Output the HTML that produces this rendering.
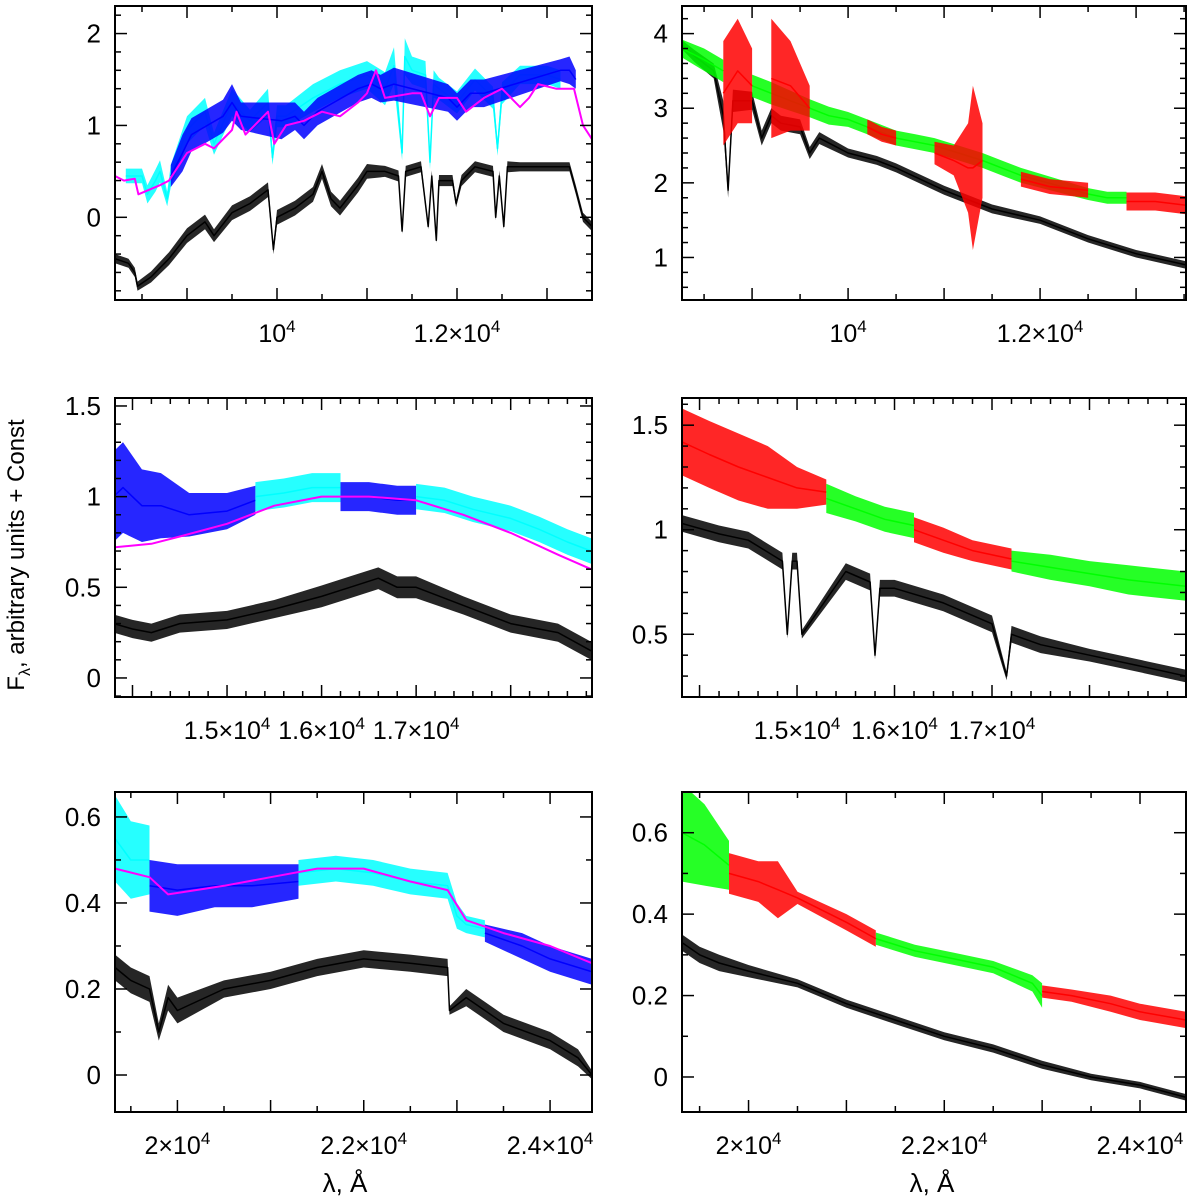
<!DOCTYPE html>
<html><head><meta charset="utf-8">
<style>
html,body{margin:0;padding:0;background:#fff}
svg{display:block}
text{font-family:"Liberation Sans",sans-serif;fill:#000}
</style></head>
<body>
<svg id="chart" width="1200" height="1200" viewBox="0 0 1200 1200" xmlns="http://www.w3.org/2000/svg">
<text transform="translate(24,555) rotate(-90)" text-anchor="middle" font-size="24">F<tspan font-size="16" dy="6">λ</tspan><tspan dy="-6">, arbitrary units + Const</tspan></text>
<text x="345" y="1192" text-anchor="middle" font-size="26">λ, Å</text>
<text x="932" y="1192" text-anchor="middle" font-size="26">λ, Å</text>
</svg>
<script>
// ---------- data (wavelength Å, flux) ----------
// Top-left panel
const tlBlackX=[8200,8350,8420,8450,8600,8800,9000,9200,9300,9500,9700,9900,9960,10000,10200,10400,10500,10600,10700,10900,11000,11200,11350,11390,11430,11600,11680,11720,11770,11800,11950,11990,12050,12200,12400,12430,12470,12520,12560,12700,13000,13250,13320,13400,13500];
const tlBlackY=[-0.45,-0.5,-0.6,-0.75,-0.65,-0.45,-0.2,-0.05,-0.2,0.05,0.15,0.3,-0.35,0.0,0.1,0.25,0.5,0.2,0.1,0.35,0.5,0.5,0.45,-0.15,0.5,0.55,-0.1,0.45,-0.25,0.4,0.4,0.15,0.4,0.55,0.5,0.0,0.45,-0.1,0.55,0.55,0.55,0.55,0.3,0.0,-0.1];
const tlBlackA=[0.05,0.05,0.05,0.05,0.06,0.07,0.08,0.08,0.07,0.08,0.08,0.08,0.05,0.08,0.08,0.08,0.08,0.08,0.08,0.08,0.08,0.06,0.06,0.03,0.06,0.06,0.03,0.06,0.03,0.06,0.06,0.04,0.06,0.06,0.06,0.03,0.06,0.03,0.06,0.05,0.05,0.05,0.05,0.05,0.05];
const tlCyanX=[8320,8500,8560,8650,8700,8780,8820,9000,9200,9300,9500,9700,9900,9950,10000,10100,10400,10700,11000,11200,11300,11390,11420,11500,11650,11700,11740,11800,12000,12200,12400,12450,12500,12700,13000,13150];
const tlCyanY=[0.45,0.45,0.25,0.4,0.5,0.2,0.45,0.95,1.15,0.8,1.25,1.05,1.25,0.65,1.1,1.1,1.3,1.45,1.55,1.4,1.65,0.7,1.75,1.6,1.55,0.6,1.45,1.4,1.25,1.5,1.3,0.75,1.35,1.55,1.55,1.5];
const tlCyanA=[0.08,0.08,0.1,0.12,0.12,0.08,0.12,0.15,0.15,0.12,0.15,0.12,0.15,0.08,0.12,0.12,0.15,0.15,0.15,0.18,0.2,0.08,0.2,0.15,0.15,0.08,0.15,0.12,0.12,0.12,0.12,0.08,0.12,0.1,0.1,0.1];
const tlBlueX=[8820,8950,9050,9400,9500,9600,10050,10200,10300,10450,10900,11050,11150,11300,11900,12000,12150,12300,13150,13250,13320];
const tlBlueY=[0.45,0.7,0.9,1.1,1.25,1.1,1.05,1.1,1.0,1.15,1.4,1.45,1.4,1.45,1.3,1.2,1.35,1.35,1.6,1.6,1.5];
const tlBlueA=[0.12,0.2,0.18,0.18,0.2,0.15,0.2,0.15,0.15,0.15,0.15,0.15,0.15,0.18,0.15,0.15,0.15,0.15,0.12,0.15,0.1];
const tlMagX=[8200,8300,8420,8460,8700,8800,9000,9200,9300,9500,9550,9650,9750,9900,9970,10100,10300,10500,10700,10900,11000,11100,11200,11500,11600,11700,11800,12000,12100,12300,12500,12700,12800,12900,13100,13300,13400,13500];
const tlMagY=[0.45,0.4,0.42,0.25,0.35,0.4,0.7,0.8,0.75,0.95,1.15,0.9,1.0,1.15,0.8,1.0,1.05,1.15,1.1,1.25,1.35,1.6,1.3,1.35,1.35,1.1,1.3,1.3,1.15,1.3,1.4,1.2,1.3,1.45,1.4,1.4,1.0,0.85];

// Top-right panel
const trBlackX=[8270,8400,8600,8700,8750,8800,9000,9100,9200,9300,9500,9600,9700,10000,10300,10500,11000,11500,12000,12500,13000,13520];
const trBlackY=[3.85,3.7,3.5,2.9,1.9,3.1,3.1,2.6,2.9,2.8,2.75,2.4,2.6,2.4,2.3,2.2,1.9,1.65,1.5,1.25,1.05,0.9];
const trBlackA=[0.06,0.08,0.1,0.2,0.1,0.15,0.12,0.1,0.1,0.1,0.1,0.08,0.08,0.06,0.06,0.06,0.06,0.06,0.05,0.05,0.05,0.05];
const trGreenX=[8270,8500,8700,8700,9000,9200,9600,9800,10000,10200,10500,10700,10900,11400,11600,11800,12500,12700,12900];
const trGreenY=[3.8,3.65,3.5,null,3.3,3.2,3.0,2.9,2.85,2.75,2.6,2.55,2.5,2.3,2.2,2.1,1.85,1.8,1.8];
const trGreenA=[0.12,0.15,0.15,0,0.15,0.15,0.12,0.12,0.1,0.1,0.1,0.1,0.1,0.1,0.1,0.1,0.08,0.08,0.08];
const trRedX=[8700,8850,9000,9000,9200,9400,9600,9600,10200,10350,10500,10500,10900,11100,11250,11300,11400,11400,11800,12100,12500,12500,12900,13200,13520];
const trRedY=[3.2,3.5,3.3,null,3.4,3.3,3.0,null,2.75,2.65,2.6,null,2.4,2.3,2.2,2.2,2.3,null,2.05,1.95,1.9,null,1.75,1.75,1.7];
const trRedA=[0.7,0.7,0.5,0,0.8,0.6,0.3,0,0.1,0.1,0.1,0,0.15,0.2,0.6,1.1,0.5,0,0.1,0.1,0.1,0,0.12,0.12,0.12];

// Middle-left panel
const mlBlackX=[13800,14000,14200,14500,15000,15500,16000,16300,16600,16800,17000,17500,18000,18500,18850];
const mlBlackY=[0.3,0.27,0.25,0.3,0.32,0.38,0.45,0.5,0.55,0.5,0.5,0.4,0.3,0.25,0.15];
const mlBlackA=[0.05,0.05,0.05,0.05,0.05,0.05,0.06,0.06,0.06,0.06,0.06,0.05,0.05,0.05,0.05];
const mlBlueX=[13800,13900,14100,14300,14600,15000,15300,15300,16200,16500,16800,17000];
const mlBlueY=[1.0,1.05,0.95,0.95,0.9,0.92,0.98,null,1.0,1.0,0.98,0.98];
const mlBlueA=[0.25,0.25,0.2,0.18,0.12,0.1,0.08,0,0.08,0.08,0.08,0.08];
const mlCyanX=[15300,15600,15900,16200,16200,17000,17300,17600,18000,18300,18600,18850];
const mlCyanY=[1.0,1.02,1.05,1.05,null,1.0,0.98,0.93,0.88,0.82,0.75,0.7];
const mlCyanA=[0.08,0.08,0.08,0.08,0,0.07,0.07,0.07,0.07,0.07,0.07,0.07];
const mlMagX=[13800,14200,14500,15000,15500,16000,16500,17000,17500,18000,18500,18850];
const mlMagY=[0.72,0.74,0.78,0.85,0.95,1.0,1.0,0.98,0.9,0.8,0.68,0.6];

// Middle-right panel
const mrBlackX=[13820,14200,14500,14850,14900,14950,15000,15050,15500,15750,15800,15850,16000,16500,17000,17150,17200,17500,18000,18500,18990];
const mrBlackY=[1.03,0.98,0.95,0.85,0.5,0.85,0.85,0.5,0.8,0.75,0.4,0.72,0.72,0.65,0.55,0.3,0.5,0.45,0.4,0.35,0.3];
const mrBlackA=[0.04,0.04,0.04,0.04,0.02,0.04,0.04,0.02,0.04,0.04,0.02,0.04,0.04,0.04,0.04,0.02,0.04,0.04,0.03,0.03,0.03];
const mrRedX=[13820,14100,14400,14700,15000,15300,15300,16200,16500,16800,17200];
const mrRedY=[1.42,1.36,1.3,1.25,1.2,1.18,null,1.0,0.95,0.9,0.86];
const mrRedA=[0.16,0.16,0.16,0.15,0.1,0.06,0,0.06,0.06,0.05,0.05];
const mrGreenX=[15300,15600,15900,16200,16200,17200,17600,18000,18400,18990];
const mrGreenY=[1.15,1.1,1.05,1.02,null,0.85,0.82,0.79,0.76,0.73];
const mrGreenA=[0.07,0.06,0.06,0.06,0,0.05,0.06,0.06,0.07,0.07];

// Bottom-left panel
const blBlackX=[19330,19500,19700,19800,19900,20000,20500,21000,21500,22000,22500,22900,22920,23100,23300,23500,24000,24300,24450];
const blBlackY=[0.25,0.22,0.2,0.1,0.18,0.15,0.2,0.22,0.25,0.27,0.26,0.25,0.15,0.18,0.15,0.12,0.08,0.04,0.0];
const blBlackA=[0.03,0.03,0.03,0.02,0.03,0.03,0.02,0.02,0.02,0.02,0.02,0.02,0.01,0.02,0.02,0.02,0.02,0.02,0.01];
const blCyanX=[19330,19500,19700,19700,21300,21700,22100,22500,22900,23000,23100,23300];
const blCyanY=[0.55,0.5,0.5,null,0.47,0.48,0.47,0.45,0.44,0.37,0.35,0.34];
const blCyanA=[0.1,0.09,0.08,0,0.03,0.03,0.03,0.03,0.03,0.03,0.02,0.02];
const blBlueX=[19700,20000,20400,20800,21300,21300,23300,23700,24000,24450];
const blBlueY=[0.44,0.43,0.44,0.44,0.45,null,0.33,0.3,0.27,0.24];
const blBlueA=[0.06,0.06,0.05,0.05,0.04,0,0.02,0.03,0.03,0.03];
const blMagX=[19330,19700,19900,20500,21000,21500,22000,22500,22900,23100,23500,24000,24450];
const blMagY=[0.48,0.46,0.42,0.44,0.46,0.48,0.48,0.45,0.43,0.36,0.33,0.3,0.26];

// Bottom-right panel
const brBlackX=[19320,19500,19700,20000,20500,21000,21500,22000,22500,23000,23500,24000,24470];
const brBlackY=[0.33,0.3,0.28,0.26,0.23,0.18,0.14,0.1,0.07,0.03,0.0,-0.02,-0.05];
const brBlackA=[0.02,0.02,0.02,0.015,0.01,0.01,0.01,0.01,0.01,0.01,0.008,0.008,0.008];
const brGreenX=[19320,19550,19800,19800,21300,21700,22100,22500,22900,23000];
const brGreenY=[0.6,0.57,0.52,null,0.34,0.31,0.29,0.27,0.23,0.2];
const brGreenA=[0.12,0.1,0.06,0,0.015,0.015,0.015,0.015,0.02,0.03];
const brRedX=[19800,20100,20300,20500,21000,21300,21300,23000,23300,23700,24000,24470];
const brRedY=[0.5,0.48,0.46,0.44,0.38,0.34,null,0.21,0.2,0.18,0.16,0.14];
const brRedA=[0.05,0.05,0.07,0.015,0.02,0.02,0,0.015,0.015,0.02,0.02,0.02];

// ---------- drawing ----------
const NS="http://www.w3.org/2000/svg";
const svg=document.getElementById('chart');
function mk(tag,attrs,parent){const e=document.createElementNS(NS,tag);for(const k in attrs)e.setAttribute(k,attrs[k]);(parent||svg).appendChild(e);return e;}

const panels=[
 {id:'top-left',x0:115,x1:592,y0:6,y1:300,xmin:8200,xmax:13500,ymin:-0.9,ymax:2.3,xt:500,xlab:[[10000,'10','4'],[12000,'1.2×10','4']],yt:0.2,ylab:[0,1,2],
  series:[[tlBlackX,tlBlackY,tlBlackA,'#000'],[tlCyanX,tlCyanY,tlCyanA,'#00ffff'],[tlBlueX,tlBlueY,tlBlueA,'#0000ff'],[tlMagX,tlMagY,null,'#ff00ff']]},
 {id:'top-right',x0:682,x1:1186,y0:6,y1:300,xmin:8270,xmax:13520,ymin:0.43,ymax:4.37,xt:500,xlab:[[10000,'10','4'],[12000,'1.2×10','4']],yt:0.2,ylab:[1,2,3,4],
  series:[[trBlackX,trBlackY,trBlackA,'#000'],[trGreenX,trGreenY,trGreenA,'#00ff00'],[trRedX,trRedY,trRedA,'#ff0000']]},
 {id:'middle-left',x0:115,x1:592,y0:398,y1:697,xmin:13815,xmax:18860,ymin:-0.105,ymax:1.544,xt:200,xlab:[[15000,'1.5×10','4'],[16000,'1.6×10','4'],[17000,'1.7×10','4']],yt:0.1,ylab:[0,0.5,1,1.5],
  series:[[mlBlackX,mlBlackY,mlBlackA,'#000'],[mlBlueX,mlBlueY,mlBlueA,'#0000ff'],[mlCyanX,mlCyanY,mlCyanA,'#00ffff'],[mlMagX,mlMagY,null,'#ff00ff']]},
 {id:'middle-right',x0:682,x1:1186,y0:398,y1:697,xmin:13820,xmax:18990,ymin:0.2,ymax:1.63,xt:200,xlab:[[15000,'1.5×10','4'],[16000,'1.6×10','4'],[17000,'1.7×10','4']],yt:0.1,ylab:[0.5,1,1.5],
  series:[[mrBlackX,mrBlackY,mrBlackA,'#000'],[mrRedX,mrRedY,mrRedA,'#ff0000'],[mrGreenX,mrGreenY,mrGreenA,'#00ff00']]},
 {id:'bottom-left',x0:115,x1:592,y0:792,y1:1112,xmin:19330,xmax:24450,ymin:-0.086,ymax:0.658,xt:500,xlab:[[20000,'2×10','4'],[22000,'2.2×10','4'],[24000,'2.4×10','4']],yt:0.1,ylab:[0,0.2,0.4,0.6],
  series:[[blBlackX,blBlackY,blBlackA,'#000'],[blCyanX,blCyanY,blCyanA,'#00ffff'],[blBlueX,blBlueY,blBlueA,'#0000ff'],[blMagX,blMagY,null,'#ff00ff']]},
 {id:'bottom-right',x0:682,x1:1186,y0:792,y1:1112,xmin:19320,xmax:24470,ymin:-0.086,ymax:0.70,xt:500,xlab:[[20000,'2×10','4'],[22000,'2.2×10','4'],[24000,'2.4×10','4']],yt:0.1,ylab:[0,0.2,0.4,0.6],
  series:[[brBlackX,brBlackY,brBlackA,'#000'],[brGreenX,brGreenY,brGreenA,'#00ff00'],[brRedX,brRedY,brRedA,'#ff0000']]}
];

panels.forEach(p=>{
  const g=mk('g',{});
  
  
  const sx=v=>p.x0+(v-p.xmin)/(p.xmax-p.xmin)*(p.x1-p.x0);
  const sy=v=>p.y1-(v-p.ymin)/(p.ymax-p.ymin)*(p.y1-p.y0);
  const cid='clip-'+p.id;
  const cp=mk('clipPath',{id:cid},g);
  mk('rect',{x:p.x0,y:p.y0,width:p.x1-p.x0,height:p.y1-p.y0},cp);
  const dg=mk('g',{'clip-path':'url(#'+cid+')'},g);
  p.series.forEach(s=>{
    const [xs,ys,am,col]=s;
    let segs=[],cur=[];
    xs.forEach((x,i)=>{ if(ys[i]===null){ if(cur.length)segs.push(cur); cur=[]; } else cur.push(i); });
    if(cur.length)segs.push(cur);
    segs.forEach(seg=>{
      if(am){
        const top=seg.map(i=>sx(xs[i]).toFixed(1)+','+sy(ys[i]+am[i]).toFixed(1));
        const bot=seg.slice().reverse().map(i=>sx(xs[i]).toFixed(1)+','+sy(ys[i]-am[i]).toFixed(1));
        const band=mk('polygon',{points:top.concat(bot).join(' '),fill:col,'fill-opacity':0.85},dg);
        
        
      }
      const ln=mk('polyline',{points:seg.map(i=>sx(xs[i]).toFixed(1)+','+sy(ys[i]).toFixed(1)).join(' '),fill:'none',stroke:col,'stroke-width':am?1.5:2,'stroke-linejoin':'round'},dg);
      
      
    });
  });
  const fr=mk('rect',{x:p.x0,y:p.y0,width:p.x1-p.x0,height:p.y1-p.y0,fill:'none',stroke:'#000','stroke-width':2},g);
  
  
  for(let v=Math.ceil(p.xmin/p.xt)*p.xt; v<=p.xmax; v+=p.xt){
    const X=sx(v); const maj=(v%1000===0); const L=maj?12:6;
    mk('line',{x1:X,x2:X,y1:p.y1,y2:p.y1-L,stroke:'#000','stroke-width':1.5},g);
    mk('line',{x1:X,x2:X,y1:p.y0,y2:p.y0+L,stroke:'#000','stroke-width':1.5},g);
  }
  p.xlab.forEach(l=>{
    const t=mk('text',{x:sx(l[0]),y:p.y1+42,'text-anchor':'middle','font-size':25},g);
    
    
    t.appendChild(document.createTextNode(l[1]));
    const sp=mk('tspan',{'font-size':17,dy:-10},t); sp.textContent=l[2];
  });
  const eps=1e-6;
  for(let k=Math.ceil(p.ymin/p.yt-eps); k*p.yt<=p.ymax+eps; k++){
    const v=k*p.yt; const Y=sy(v);
    const maj=p.ylab.some(l=>Math.abs(l-v)<eps); const L=maj?12:6;
    mk('line',{x1:p.x0,x2:p.x0+L,y1:Y,y2:Y,stroke:'#000','stroke-width':1.5},g);
    mk('line',{x1:p.x1,x2:p.x1-L,y1:Y,y2:Y,stroke:'#000','stroke-width':1.5},g);
  }
  p.ylab.forEach(v=>{
    const t=mk('text',{x:p.x0-14,y:sy(v)+9,'text-anchor':'end','font-size':26},g);
    
    
    t.textContent=String(v);
  });
});
</script>
</body></html>
